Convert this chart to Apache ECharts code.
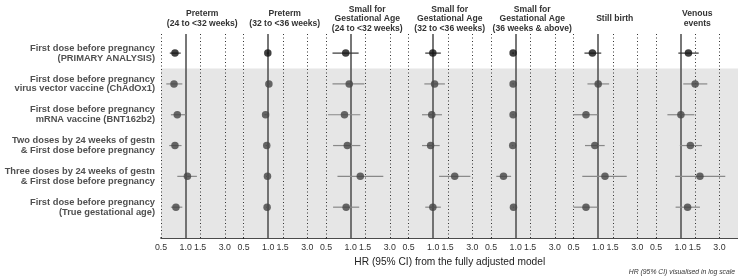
<!DOCTYPE html>
<html>
<head>
<meta charset="utf-8">
<script src="https://cdn.jsdelivr.net/npm/echarts@6/dist/echarts.min.js"></script>
<style>
  html, body { margin: 0; padding: 0; background: #fff; }
  #chart { width: 738px; height: 277px; }
</style>
</head>
<body>
<div id="chart"></div>
<script>
// outcome panels (left to right)
var panelTitles = [
	'Preterm\n(24 to <32 weeks)',
	'Preterm\n(32 to <36 weeks)',
	'Small for\nGestational Age\n(24 to <32 weeks)',
	'Small for\nGestational Age\n(32 to <36 weeks)',
	'Small for\nGestational Age\n(36 weeks & above)',
	'Still birth',
	'Venous\nevents'
];
// analyses (top to bottom)
var rowLabels = [
	'First dose before pregnancy\n(PRIMARY ANALYSIS)',
	'First dose before pregnancy\nvirus vector vaccine (ChAdOx1)',
	'First dose before pregnancy\nmRNA vaccine (BNT162b2)',
	'Two doses by 24 weeks of gestn\n& First dose before pregnancy',
	'Three doses by 24 weeks of gestn\n& First dose before pregnancy',
	'First dose before pregnancy\n(True gestational age)'
];
// hazard ratios, one row per panel, one value per analysis
var hrValues = [
	[0.74, 0.72, 0.79, 0.74, 1.05, 0.76],
	[0.99, 1.02, 0.93, 0.96, 0.98, 0.97],
	[0.87, 0.96, 0.84, 0.91, 1.31, 0.88],
	[0.99, 1.04, 0.96, 0.93, 1.83, 0.99],
	[0.93, 0.93, 0.93, 0.92, 0.71, 0.94],
	[0.85, 1.00, 0.71, 0.91, 1.21, 0.71],
	[1.25, 1.51, 1.01, 1.32, 1.73, 1.22]
];
var ciLower = [
	[0.64, 0.58, 0.66, 0.63, 0.79, 0.66],
	[0.96, 0.99, 0.90, 0.93, 0.94, 0.94],
	[0.60, 0.60, 0.53, 0.61, 0.69, 0.61],
	[0.80, 0.78, 0.73, 0.73, 1.18, 0.80],
	[0.91, 0.91, 0.91, 0.90, 0.58, 0.92],
	[0.68, 0.74, 0.50, 0.69, 0.64, 0.50],
	[0.94, 1.08, 0.69, 0.98, 0.86, 0.87]
];
var ciUpper = [
	[0.87, 0.91, 1.00, 0.89, 1.37, 0.91],
	[1.02, 1.05, 0.96, 0.99, 1.03, 1.00],
	[1.25, 1.47, 1.31, 1.31, 2.50, 1.27],
	[1.24, 1.39, 1.28, 1.20, 2.84, 1.24],
	[0.95, 0.95, 0.95, 0.94, 0.88, 0.96],
	[1.09, 1.36, 0.98, 1.20, 2.23, 0.98],
	[1.67, 2.13, 1.48, 1.83, 3.54, 1.73]
];
var tickValues = [0.5, 1.0, 1.5, 3.0];
var dottedRefs = [0.5, 1.5, 3.0];

var FONT = 'Liberation Sans, Arial, sans-serif';
var L = Math.log10;
var plotLeft = 161, panelW = 82.5, plotTop = 34, plotH = 204;
var xMin = L(0.5), xMax = L(0.5) + panelW / 82;

var grids = [], xAxes = [], yAxes = [], series = [], titles = [];

panelTitles.forEach(function(t, p){
	var left = plotLeft + p * panelW;
	grids.push({left: left, top: plotTop, width: panelW, height: plotH});
	xAxes.push({
		type: 'value', gridIndex: p, min: xMin, max: xMax,
		splitLine: {show: false},
		axisTick: {show: false},
		axisLine: {show: true, onZero: false, lineStyle: {color: '#111', width: 1.6}},
		axisLabel: {
			customValues: tickValues.map(L),
			hideOverlap: false,
			margin: 5,
			color: '#333', fontSize: 8.8, fontFamily: FONT,
			formatter: function(v){ return Math.pow(10, v).toFixed(1); }
		}
	});
	yAxes.push({
		type: 'value', gridIndex: p, inverse: true, min: 0.38, max: 7.0,
		axisLine: {show: false}, axisTick: {show: false}, splitLine: {show: false},
		axisLabel: p === 0 ? {
			show: true,
			customValues: [1, 2, 3, 4, 5, 6],
			margin: 6,
			color: '#505050', fontSize: 9.3, fontWeight: 'bold', lineHeight: 9.8, fontFamily: FONT,
			formatter: function(v){ return rowLabels[Math.round(v) - 1]; }
		} : {show: false}
	});

	var ciData = [], ptData = [];
	for (var r = 0; r < rowLabels.length; r++){
		ciData.push([L(ciLower[p][r]), L(ciUpper[p][r]), r + 1]);
		ptData.push({
			value: [L(hrValues[p][r]), r + 1],
			itemStyle: {color: r === 0 ? '#111' : '#444'}
		});
	}
	var refLines = dottedRefs.map(function(v){
		return {xAxis: L(v), lineStyle: {type: [1, 2.5], color: '#333', width: 1}};
	});
	refLines.push({xAxis: 0, lineStyle: {type: 'solid', color: '#555', width: 1.6}});

	series.push({
		type: 'custom', xAxisIndex: p, yAxisIndex: p, z: 2, silent: true,
		data: ciData,
		renderItem: function(params, api){
			var a = api.coord([api.value(0), api.value(2)]);
			var b = api.coord([api.value(1), api.value(2)]);
			return {
				type: 'line',
				shape: {x1: a[0], y1: a[1], x2: b[0], y2: b[1]},
				style: {stroke: api.value(2) === 1 ? '#333' : '#888', lineWidth: 1.2}
			};
		},
		markArea: {
			silent: true, z: 1,
			itemStyle: {color: '#e6e6e6'},
			data: [[{yAxis: 1.5}, {yAxis: 7.0}]]
		},
		markLine: {
			silent: true, z: 1.5, symbol: 'none',
			label: {show: false},
			emphasis: {disabled: true},
			data: refLines
		}
	});
	series.push({
		type: 'scatter', xAxisIndex: p, yAxisIndex: p, z: 3, silent: true,
		symbolSize: 7.5,
		data: ptData
	});

	var nLines = t.split('\n').length;
	titles.push({
		text: t, left: left + panelW / 2, textAlign: 'center',
		top: 19 - nLines * 9.8 / 2,
		padding: 0,
		textStyle: {fontSize: 8.6, fontWeight: 'bold', color: '#333', lineHeight: 9.8, fontFamily: FONT}
	});
});

titles.push({
	text: 'HR (95% CI) from the fully adjusted model',
	left: plotLeft + panelW * 7 / 2, textAlign: 'center', top: 257, padding: 0,
	textStyle: {fontSize: 10.2, fontWeight: 'normal', color: '#222', fontFamily: FONT}
});
titles.push({
	text: 'HR (95% CI) visualised in log scale',
	right: 3, top: 269, padding: 0,
	textStyle: {fontSize: 6.8, fontWeight: 'normal', fontStyle: 'italic', color: '#333', fontFamily: FONT}
});

var chart = echarts.init(document.getElementById('chart'), null, {renderer: 'canvas'});
chart.setOption({
	animation: false,
	backgroundColor: '#fff',
	title: titles,
	grid: grids,
	xAxis: xAxes,
	yAxis: yAxes,
	series: series
});
</script>
</body>
</html>
